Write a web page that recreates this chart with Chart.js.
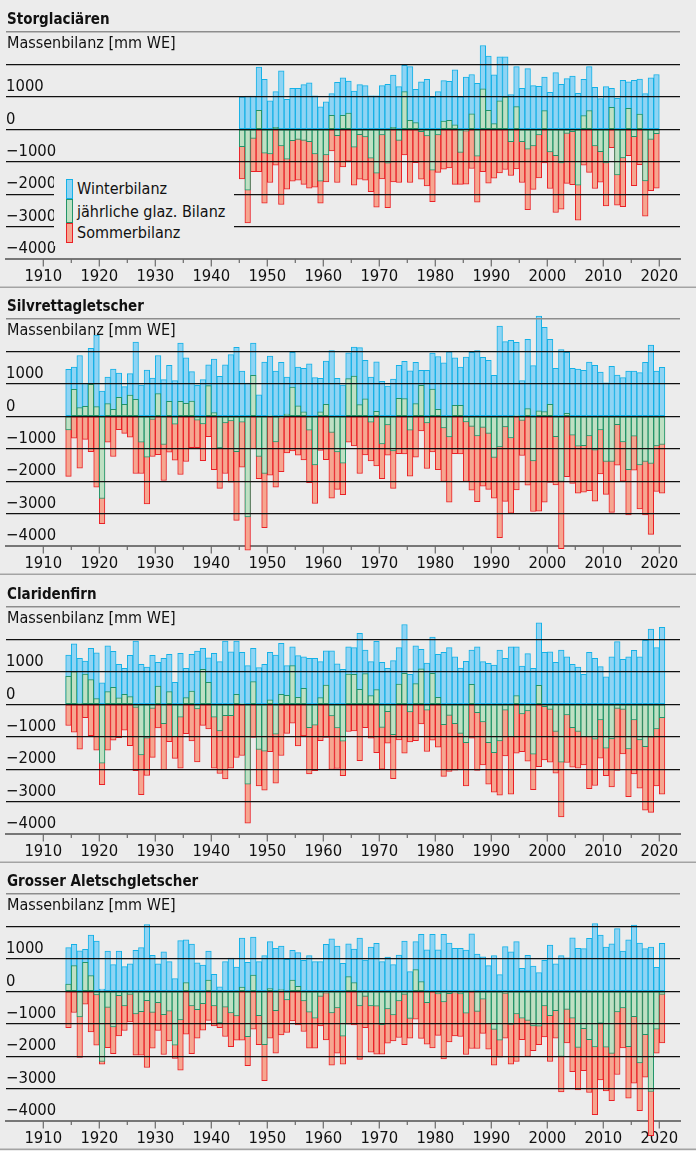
<!DOCTYPE html>
<html>
<head>
<meta charset="utf-8">
<script src="https://cdn.jsdelivr.net/npm/chart.js@4.4.1/dist/chart.umd.min.js"></script>
<style>
  body { margin: 0; background: #ececec; width: 696px; height: 1151px; overflow: hidden;
         font-family: "Liberation Sans Narrow", "DejaVu Sans Condensed", "Arial Narrow", sans-serif; color: #111; }
  .panel { position: absolute; left: 0; width: 696px; height: 288px; }
  .panel canvas { position: absolute; left: 0; top: 0; }
  .title { position: absolute; left: 7px; top: 9px; font-size: 15px; font-weight: bold; line-height: 20px; }
  .ytitle { position: absolute; left: 7px; top: 33px; font-size: 16px; line-height: 20px; }
  .legend { position: absolute; left: 54px; top: 176px; width: 180px; height: 70px; background: #ececec; }
  .legend .sw { position: absolute; left: 12px; width: 5px; border: 1px solid; }
  .legend .lb { position: absolute; left: 23px; font-size: 16px; line-height: 20px; white-space: nowrap; }
</style>
</head>
<body>

<div class="panel" style="top:0px"><canvas id="c0" width="696" height="288"></canvas>
  <div class="title">Storglaciären</div><div class="ytitle">Massenbilanz [mm WE]</div>
  <div class="legend">
    <div class="sw" style="top:3px;height:18px;background:#8fd4f4;border-color:#14b1e6"></div>
    <div class="sw" style="top:23px;height:22px;background:#bfe0c3;border-color:#229469"></div>
    <div class="sw" style="top:47px;height:18px;background:#f6a690;border-color:#ea2027"></div>
    <div class="lb" style="top:3px">Winterbilanz</div>
    <div class="lb" style="top:26px">jährliche glaz. Bilanz</div>
    <div class="lb" style="top:47px">Sommerbilanz</div>
  </div>
</div>
<div class="panel" style="top:287px"><canvas id="c1" width="696" height="288"></canvas>
  <div class="title">Silvrettagletscher</div><div class="ytitle">Massenbilanz [mm WE]</div></div>
<div class="panel" style="top:575px"><canvas id="c2" width="696" height="288"></canvas>
  <div class="title">Claridenfirn</div><div class="ytitle">Massenbilanz [mm WE]</div></div>
<div class="panel" style="top:862px"><canvas id="c3" width="696" height="288"></canvas>
  <div class="title">Grosser Aletschgletscher</div><div class="ytitle">Massenbilanz [mm WE]</div></div>

<script>
// Mass balance data in mm w.e., bar for year Y covers the hydrological year Y-1/Y

const storYears = [
  1946, 1947, 1948, 1949, 1950, 1951, 1952, 1953, 1954, 1955,
  1956, 1957, 1958, 1959, 1960, 1961, 1962, 1963, 1964, 1965,
  1966, 1967, 1968, 1969, 1970, 1971, 1972, 1973, 1974, 1975,
  1976, 1977, 1978, 1979, 1980, 1981, 1982, 1983, 1984, 1985,
  1986, 1987, 1988, 1989, 1990, 1991, 1992, 1993, 1994, 1995,
  1996, 1997, 1998, 1999, 2000, 2001, 2002, 2003, 2004, 2005,
  2006, 2007, 2008, 2009, 2010, 2011, 2012, 2013, 2014, 2015,
  2016, 2017, 2018, 2019, 2020
];
const storWinter = [
  995, 1025, 1025, 1920, 1540, 880, 1160, 1805, 925, 1260,
  1260, 1375, 1435, 1035, 690, 850, 1100, 1445, 1590, 1490,
  1180, 1375, 1345, 1035, 1035, 1345, 1385, 1670, 1315, 1970,
  1930, 1230, 1460, 1540, 995, 1160, 1500, 1480, 1835, 1000,
  1610, 1690, 1415, 2585, 2255, 1680, 2235, 2235, 1070, 1930,
  1260, 1870, 1345, 1325, 1610, 1140, 1745, 1385, 1560, 1640,
  1110, 1540, 1930, 1290, 945, 1315, 1260, 955, 1510, 1465,
  1510, 1550, 1100, 1590, 1690
];
const storAnnual = [
  -535, -1880, -280, 585, -740, -760, 60, -510, -925, -350,
  -310, -340, -380, -760, -1600, -790, 430, -195, 430, 500,
  -555, -165, -235, -890, -1355, -175, -1045, 60, -340, 1160,
  280, 205, -70, -205, -1260, -175, 255, 280, 135, -710,
  -60, 480, -830, 1250, 585, 175, 880, 1000, -380, 700,
  -380, -615, -510, -175, 575, -700, -810, -1035, -125, -70,
  -1725, 420, 575, -510, -690, -1035, 680, -1405, -880, 645,
  -225, 470, -1590, -310, -135
];
const storSummer = [
  -1530, -2890, -1310, -1310, -2280, -1640, -1110, -2320, -1850, -1600,
  -1570, -1700, -1815, -1785, -2280, -1620, -670, -1640, -1160, -985,
  -1725, -1540, -1570, -1920, -2400, -1530, -2420, -1620, -1640, -790,
  -1640, -1030, -1540, -1745, -2235, -1330, -1230, -1190, -1700, -1700,
  -1690, -1210, -2250, -1310, -1660, -1510, -1345, -1240, -1425, -1220,
  -1640, -2480, -1855, -1500, -1035, -1825, -2565, -2460, -1670, -1710,
  -2800, -1110, -1330, -1825, -1630, -2360, -565, -2340, -2390, -810,
  -1735, -1090, -2680, -1890, -1815
];

const swissYears = [
  1915, 1916, 1917, 1918, 1919, 1920, 1921, 1922, 1923, 1924,
  1925, 1926, 1927, 1928, 1929, 1930, 1931, 1932, 1933, 1934,
  1935, 1936, 1937, 1938, 1939, 1940, 1941, 1942, 1943, 1944,
  1945, 1946, 1947, 1948, 1949, 1950, 1951, 1952, 1953, 1954,
  1955, 1956, 1957, 1958, 1959, 1960, 1961, 1962, 1963, 1964,
  1965, 1966, 1967, 1968, 1969, 1970, 1971, 1972, 1973, 1974,
  1975, 1976, 1977, 1978, 1979, 1980, 1981, 1982, 1983, 1984,
  1985, 1986, 1987, 1988, 1989, 1990, 1991, 1992, 1993, 1994,
  1995, 1996, 1997, 1998, 1999, 2000, 2001, 2002, 2003, 2004,
  2005, 2006, 2007, 2008, 2009, 2010, 2011, 2012, 2013, 2014,
  2015, 2016, 2017, 2018, 2019, 2020, 2021
];

const silvWinter = [
  1445, 1520, 1875, 1015, 2095, 2505, 780, 1210, 1455, 1335,
  915, 1315, 2290, 965, 1425, 1180, 1875, 1130, 1570, 1100,
  2255, 1805, 1375, 955, 1130, 1590, 1765, 1230, 1590, 1900,
  2125, 1395, 1025, 2255, 665, 1670, 1855, 1395, 1660, 1210,
  1970, 1520, 1480, 1620, 1190, 1170, 1705, 2030, 1170, 965,
  1960, 2135, 2115, 1725, 1210, 1680, 1075, 935, 1150, 1570,
  1695, 1405, 1660, 1415, 1415, 1950, 1845, 1650, 1990, 1805,
  1520, 1825, 1970, 2030, 1815, 1725, 1260, 2780, 2300, 2340,
  2280, 1100, 2370, 1560, 3090, 2740, 2370, 1480, 2060, 1970,
  1480, 1455, 1415, 1670, 1570, 1365, 1035, 1540, 1270, 1190,
  1395, 1395, 1345, 1660, 2195, 1395, 1510
];
const silvAnnual = [
  -420, 830, 265, 310, 985, 300, -2535, 390, 215, 585,
  370, 655, 525, -800, -1260, -100, 700, -870, 460, -245,
  460, 400, 470, -120, -235, 945, 115, -975, -205, -145,
  -1090, -185, -3100, 1260, -1240, -1765, 20, -790, -50, 70,
  900, 320, 135, -430, -1500, 135, 370, -500, -1100, -1445,
  1160, 1240, 360, 535, -185, 155, -850, -265, -1065, 555,
  545, -430, 390, 955, -205, 840, 215, -360, -635, 340,
  340, -175, -310, -605, -340, -525, -1270, -945, -330, -665,
  20, -130, 235, -1375, 165, 145, 370, -625, -2010, 90,
  -585, -925, -905, -605, -1045, -420, -1395, -1395, -255, -790,
  -1650, -615, -1500, -1395, -1455, -915, -870
];
const silvSummer = [
  -1855, -675, -1600, -710, -1090, -2185, -3315, -800, -1240, -410,
  -525, -645, -1765, -1765, -2700, -1240, -1180, -1980, -1110, -1355,
  -1795, -1395, -965, -965, -1365, -625, -1650, -2225, -1765, -2030,
  -3210, -1570, -4125, -995, -1920, -3435, -1815, -2185, -1705, -1130,
  -1065, -1200, -1345, -2050, -2690, -1055, -1335, -2525, -2255, -2420,
  -800, -915, -1765, -1190, -1375, -1530, -1920, -1200, -2225, -1150,
  -1160, -1845, -1260, -450, -1610, -1100, -1650, -2010, -2645, -1150,
  -1160, -2010, -2280, -2635, -2155, -2255, -2525, -3745, -2625, -2985,
  -2270, -1210, -2125, -2935, -2925, -2645, -2040, -2115, -4085, -1865,
  -2070, -2370, -2340, -2290, -2615, -1775, -2410, -2965, -1510, -2000,
  -3045, -1660, -2860, -3045, -3640, -2320, -2370
];

const clarWinter = [
  1520, 1865, 1415, 1335, 1725, 1590, 665, 1805, 1630, 1230,
  1110, 1510, 1950, 1230, 1150, 1510, 1290, 1415, 1540, 675,
  1570, 1110, 1540, 1640, 1725, 1435, 1570, 1315, 1950, 1620,
  1950, 1600, 1190, 1725, 1130, 1230, 1600, 1520, 1880, 1190,
  1775, 1500, 1465, 1415, 1415, 1315, 1650, 1650, 1250, 1075,
  1775, 1745, 2185, 1670, 1315, 1940, 1290, 1110, 1345, 1745,
  2460, 925, 1805, 1695, 1270, 2075, 1540, 1600, 1745, 1465,
  1120, 1325, 1670, 1775, 1315, 1260, 1210, 1670, 1415, 1775,
  1775, 1180, 1560, 1110, 2515, 1600, 1620, 1295, 1670, 1465,
  1230, 1150, 925, 1600, 1415, 1160, 850, 1465, 1930, 1385,
  1465, 1660, 1465, 1970, 2320, 1745, 2370
];
const clarAnnual = [
  860, 1005, 30, 935, 760, 175, -1815, 390, 525, 200,
  310, 235, -100, -1560, -1045, -125, 565, -600, 390, -995,
  -400, 205, 410, -140, 1075, 675, -400, -820, -350, -350,
  310, 20, -2460, 700, -1395, -1445, 135, -925, 310, 275,
  1190, 215, 490, -720, -645, 205, 595, -360, -730, -1140,
  935, 925, 460, 945, 265, 450, -710, -225, -935, 625,
  955, -235, 635, 1090, -185, 955, 215, -625, -340, -600,
  -895, -1180, 615, -255, -545, -1180, -1490, -1130, -185, -995,
  265, -300, -205, -1540, 585, -70, -155, -840, -1785, -330,
  -720, -840, -995, -995, -1075, -480, -1355, -1065, -125, -155,
  -1375, -480, -1100, -1305, -1015, -760, -410
];
const clarSummer = [
  -655, -860, -1385, -410, -965, -1415, -2480, -1415, -1105, -1030,
  -800, -1275, -2050, -2790, -2195, -1635, -725, -2015, -1150, -1670,
  -1970, -905, -1130, -1780, -650, -760, -1970, -2135, -2300, -1970,
  -1640, -1580, -3665, -1025, -2515, -2645, -1465, -2430, -1580, -895,
  -585, -1285, -975, -2145, -2050, -1120, -1025, -2010, -1980, -2205,
  -840, -820, -1735, -720, -1045, -1490, -2000, -1200, -2290, -1100,
  -1510, -1160, -1120, -605, -1455, -1110, -1325, -2225, -2070, -2030,
  -2015, -2515, -1045, -2040, -1870, -2460, -2710, -2800, -1590, -2770,
  -1510, -1465, -1755, -2635, -1920, -1715, -1785, -2125, -3470, -1795,
  -1940, -1970, -1870, -2605, -2505, -1660, -2205, -2545, -2040, -1530,
  -2850, -2145, -2585, -3265, -3335, -2515, -2770
];

const aletWinter = [
  1345, 1445, 1250, 1295, 1735, 1550, 70, 1240, 820, 1240,
  760, 850, 1260, 1345, 2060, 1110, 850, 1220, 915, 390,
  1560, 1590, 1455, 880, 810, 1240, 525, 135, 915, 1025,
  750, 1640, 895, 1670, 915, 1100, 1530, 1325, 1395, 985,
  1260, 1190, 955, 1100, 915, 915, 1445, 1620, 1395, 860,
  1465, 1300, 1640, 965, 1365, 1480, 915, 1055, 820, 1120,
  1550, 605, 1530, 1755, 1280, 1755, 1280, 1755, 1490, 1325,
  1325, 1270, 1775, 1150, 1065, 790, 1100, 515, 1375, 1220,
  1530, 710, 1110, 780, 575, 955, 1425, 850, 1100, 1035,
  1650, 1325, 1315, 1630, 2085, 1735, 1365, 1465, 1930, 1240,
  1590, 2040, 1490, 1315, 1365, 740, 1480
];
const aletAnnual = [
  225, 790, -790, 895, 485, -115, -2165, -495, -1100, -135,
  -450, -95, -700, -625, -290, -650, -350, -720, -615, -1665,
  -880, 265, -450, -570, -380, 345, -450, -975, -490, -670,
  -760, 130, -1400, 500, -750, -1650, 85, -595, 50, -265,
  345, 155, -300, -645, -830, -155, -55, -665, -515, -1385,
  450, 265, -450, -155, -450, -460, -1030, -545, -725, -295,
  -100, -835, 670, 300, -350, 0, -80, -330, -70, -50,
  -80, -675, 10, -620, -245, -995, -1175, -1510, -65, -1025,
  -700, -830, -900, -1070, -1075, -450, -750, -595, -2010, -560,
  -830, -1730, -1150, -1495, -1715, -980, -1720, -1915, -640, -510,
  -1710, -785, -2210, -1340, -3090, -1170, -100
];
const aletSummer = [
  -1120, -655, -2040, -400, -1250, -1660, -2245, -1735, -1920, -1375,
  -1210, -945, -1970, -1970, -2350, -1755, -1210, -1950, -1530, -2070,
  -2430, -1325, -1920, -1445, -1200, -895, -1065, -1120, -1395, -1705,
  -1510, -1510, -2290, -1170, -1650, -2760, -1445, -1910, -1345, -1270,
  -915, -1035, -1240, -1755, -1755, -1065, -1500, -2280, -1910, -2245,
  -1015, -1035, -2100, -1120, -1880, -1940, -1940, -1600, -1530, -1425,
  -1650, -1445, -860, -1450, -1630, -1750, -1360, -2085, -1560, -1375,
  -1395, -1950, -1765, -1765, -1300, -1785, -2280, -2030, -1445, -2245,
  -2165, -1490, -2010, -1835, -1650, -1405, -2165, -1445, -3100, -1590,
  -2475, -3045, -2450, -3120, -3805, -2730, -3070, -3375, -2565, -1745,
  -3295, -2830, -3685, -2645, -4455, -1910, -1590
];

// axis ticks and labels
const xTickValues = [1910, 1915, 1920, 1925, 1930, 1935, 1940, 1945, 1950, 1955, 1960, 1965,
                     1970, 1975, 1980, 1985, 1990, 1995, 2000, 2005, 2010, 2015, 2020];
const decadeLabels = [1910, 1920, 1930, 1940, 1950, 1960, 1970, 1980, 1990, 2000, 2010, 2020];
const yGridValues = [3000, 2000, 1000, 0, -1000, -2000, -3000, -4000];
const yTickValues = [1000, 0, -1000, -2000, -3000, -4000];
const yTickLabels = ['1000', '0', '\u22121000', '\u22122000', '\u22123000', '\u22124000'];

const FONT = '"Liberation Sans Narrow", "DejaVu Sans Condensed", "Arial Narrow", sans-serif';
Chart.defaults.font.family = FONT;
Chart.defaults.color = '#111';

// short minor / long major tick marks below the time axis, plus the panel separator
const tickMarks = {
  id: 'tickMarks',
  beforeDatasetsDraw(chart) {
    const { ctx, chartArea, scales: { x } } = chart;
    ctx.save();
    ctx.strokeStyle = '#6a6a6a';
    ctx.lineWidth = 1.2;
    xTickValues.forEach(v => {
      const px = x.getPixelForValue(v);
      const len = decadeLabels.includes(v) ? 7.5 : 4;
      ctx.beginPath();
      ctx.moveTo(px, chartArea.bottom);
      ctx.lineTo(px, chartArea.bottom + len);
      ctx.stroke();
    });
    ctx.strokeStyle = '#a3a3a3';
    ctx.lineWidth = 1.5;
    ctx.beginPath();
    ctx.moveTo(0, chart.height - 0.75);
    ctx.lineTo(chart.width, chart.height - 0.75);
    ctx.stroke();
    ctx.restore();
  }
};

function points(years, values) {
  return years.map((y, i) => ({ x: y - 0.5, y: values[i] }));
}

function makePanel(id, years, winter, annual, summer) {
  const ctx = document.getElementById(id);
  return new Chart(ctx, {
    type: 'bar',
    data: {
      datasets: [
        { label: 'jährliche glaz. Bilanz', data: points(years, annual),
          backgroundColor: '#bfe0c3', borderColor: '#229469', order: 0 },
        { label: 'Winterbilanz', data: points(years, winter),
          backgroundColor: '#8fd4f4', borderColor: '#14b1e6', order: 1 },
        { label: 'Sommerbilanz', data: points(years, summer),
          backgroundColor: '#f6a690', borderColor: '#ea2027', order: 2 }
      ]
    },
    options: {
      responsive: false,
      animation: false,
      layout: { padding: { left: 6, right: 16, top: 32, bottom: 0 } },
      datasets: {
        bar: { grouped: false, barPercentage: 1, categoryPercentage: 1,
               borderWidth: 1, borderSkipped: false, clip: false }
      },
      plugins: { legend: { display: false }, tooltip: { enabled: false } },
      scales: {
        x: {
          type: 'linear',
          offset: false,
          bounds: 'data',
          min: 1903.34,
          max: 2023.7,
          afterBuildTicks: s => { s.ticks = xTickValues.map(v => ({ value: v })); },
          afterFit: s => { s.height = 29; },
          grid: { display: false, drawTicks: true, tickLength: 7, offset: false },
          border: { display: true, color: '#777', width: 2 },
          ticks: {
            autoSkip: false, maxRotation: 0, padding: 1,
            font: { size: 16.5 }, color: '#111',
            callback: v => decadeLabels.includes(v) ? String(v) : ''
          }
        },
        y: {
          min: -4000,
          max: 3000,
          afterBuildTicks: s => { s.ticks = yGridValues.map(v => ({ value: v })); },
          border: { display: false },
          grid: {
            z: 1,
            drawTicks: false,
            color: c => c.tick.value === 3000 ? '#8d8d8d' : (c.tick.value === -4000 ? 'rgba(0,0,0,0)' : '#111'),
            lineWidth: c => c.tick.value === 3000 ? 1.5 : 1.2
          },
          ticks: {
            mirror: true, padding: 0, labelOffset: -10,
            font: { size: 16.5 }, color: '#111',
            callback: v => {
              const i = yTickValues.indexOf(v);
              return i >= 0 ? yTickLabels[i] : '';
            }
          }
        }
      }
    },
    plugins: [tickMarks]
  });
}

makePanel('c0', storYears, storWinter, storAnnual, storSummer);
makePanel('c1', swissYears, silvWinter, silvAnnual, silvSummer);
makePanel('c2', swissYears, clarWinter, clarAnnual, clarSummer);
makePanel('c3', swissYears, aletWinter, aletAnnual, aletSummer);
</script>
</body>
</html>
